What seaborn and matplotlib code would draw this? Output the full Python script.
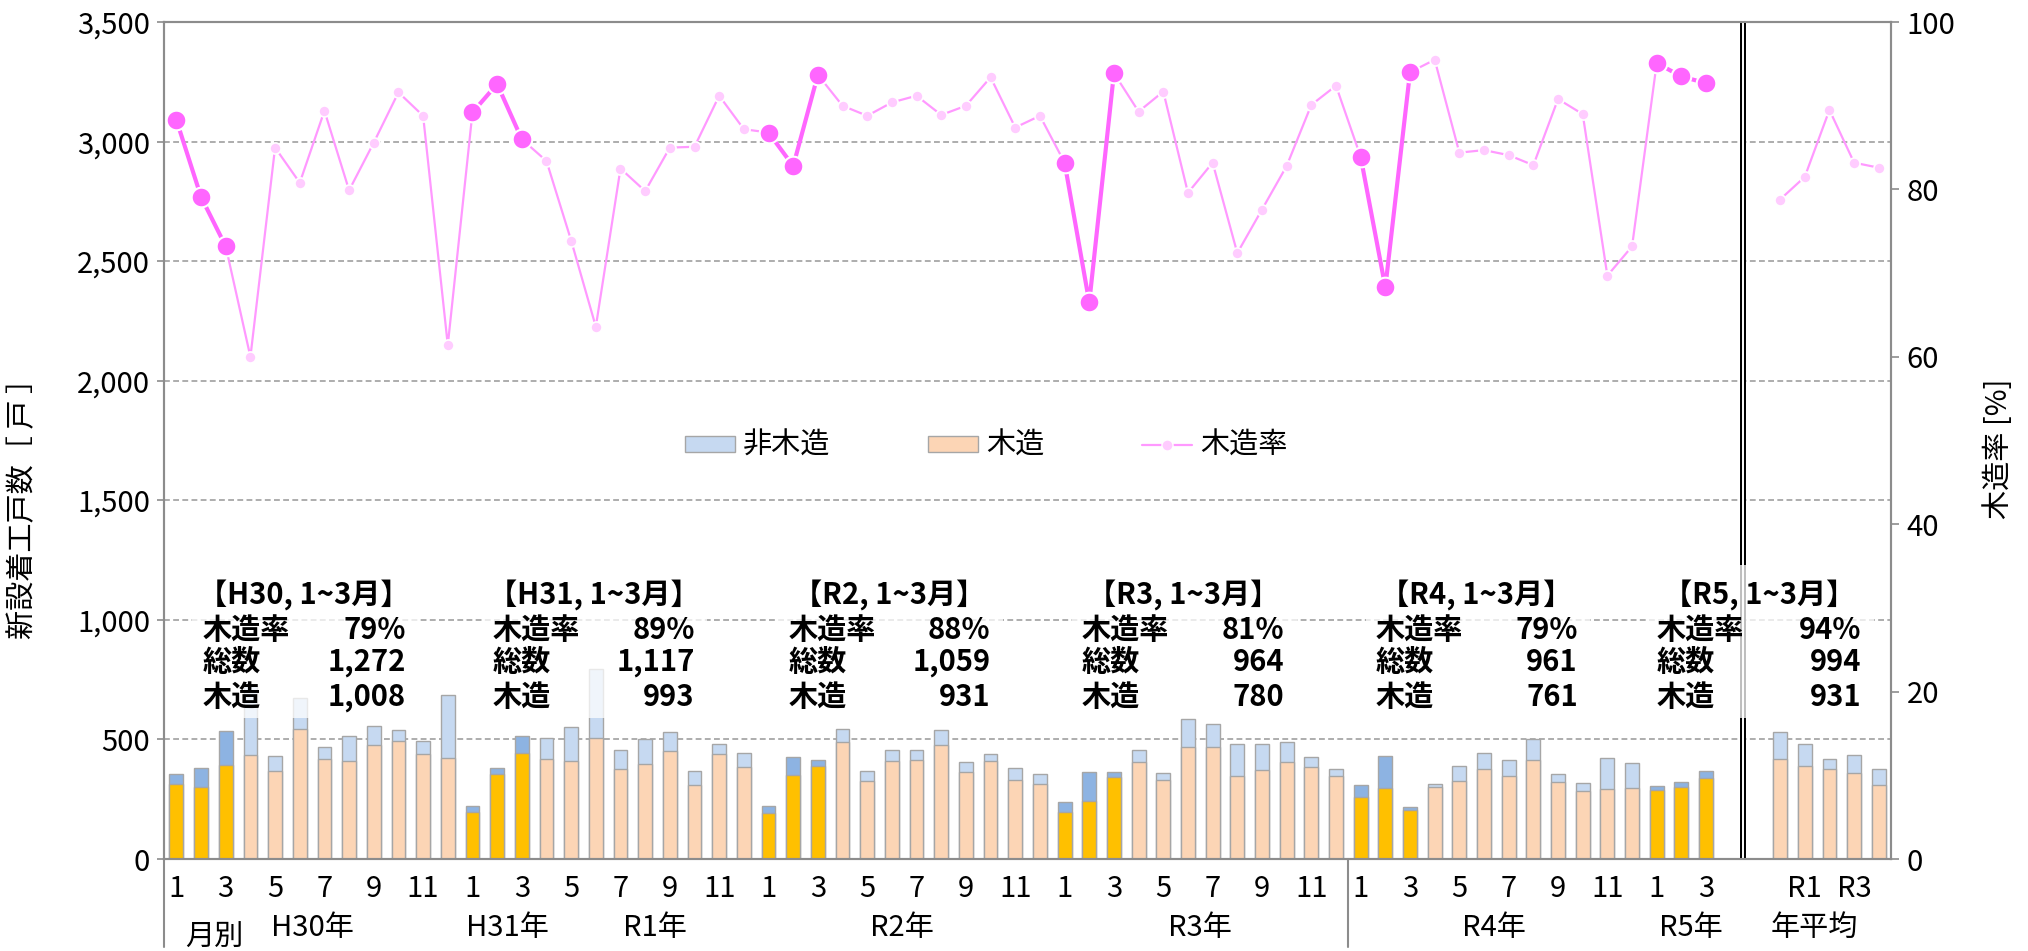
import numpy as np
import pandas as pd
import matplotlib
matplotlib.use('Agg')
import matplotlib.pyplot as plt
import matplotlib.transforms as mtransforms
from matplotlib.patches import Patch, Rectangle
from matplotlib.lines import Line2D
import seaborn as sns

## monthly values, H30/1 .. R5/3 (63 months), then yearly averages H30..R4
wood_monthly = [315, 301, 392, 433, 368, 545, 418, 410, 475, 493, 438, 421,
                197, 354, 442, 420, 410, 505, 376, 399, 452, 311, 438, 385,
                192, 352, 387, 489, 326, 411, 414, 478, 365, 411, 332, 315,
                197, 241, 342, 406, 329, 467, 468, 347, 374, 404, 385, 347,
                260, 296, 205, 301, 328, 376, 347, 415, 322, 284, 293, 296,
                290, 301, 340]
total_monthly = [357, 380, 535, 722, 432, 673, 468, 513, 556, 541, 493, 687,
                 223, 380, 514, 505, 553, 795, 456, 500, 532, 368, 480, 443,
                 220, 425, 414, 542, 367, 454, 454, 538, 407, 440, 379, 355,
                 237, 365, 362, 454, 360, 585, 565, 481, 481, 489, 425, 376,
                 310, 432, 219, 312, 389, 445, 413, 500, 355, 318, 421, 403,
                 304, 321, 369]
rate_monthly = [88.3, 79.1, 73.2, 60.0, 85.0, 80.8, 89.4, 79.9, 85.6, 91.6, 88.8, 61.4,
                89.2, 92.6, 86.0, 83.4, 73.9, 63.6, 82.5, 79.8, 85.0, 85.1, 91.2, 87.2,
                86.8, 82.8, 93.7, 90.0, 88.8, 90.4, 91.2, 88.9, 90.0, 93.4, 87.4, 88.8,
                83.2, 66.5, 93.9, 89.3, 91.7, 79.6, 83.2, 72.4, 77.6, 82.8, 90.1, 92.4,
                83.9, 68.3, 94.0, 95.5, 84.4, 84.7, 84.1, 82.9, 90.8, 89.0, 69.7, 73.2,
                95.1, 93.5, 92.7]
wood_annual = [418, 390, 375, 360, 311]
total_annual = [531, 480, 417, 434, 376]
rate_annual = [78.8, 81.5, 89.5, 83.2, 82.6]

## Jan-Mar summaries
q1_years = ['H30', 'H31', 'R2', 'R3', 'R4', 'R5']
q1_rate = ['79%', '89%', '88%', '81%', '79%', '94%']
q1_total = ['1,272', '1,117', '1,059', '964', '961', '994']
q1_wood = ['1,008', '993', '931', '780', '761', '931']

month_ticks = ['1', '3', '5', '7', '9', '11']
annual_ticks = {66: 'R1', 68: 'R3'}
year_labels = [(5.5, 'H30年'), (13.4, 'H31年'), (19.4, 'R1年'), (29.4, 'R2年'),
               (41.5, 'R3年'), (53.4, 'R4年'), (61.4, 'R5年'), (66.4, '年平均')]

C_WOOD, C_NON = '#FCD5B5', '#C6D9F1'
C_WOOD_Q1, C_NON_Q1 = '#FFC000', '#8DB3E2'
C_EDGE, C_AX = '#a6a6a6', '#8c8c8c'
C_LINE, C_MK, C_HI = '#FF99FF', '#FFCCFF', '#FF66FF'
FS = 21

sns.set_theme(style='white')
plt.rcParams['font.family'] = ['Noto Sans CJK JP', 'DejaVu Sans']
plt.rcParams['text.color'] = 'black'
plt.rcParams['axes.labelcolor'] = 'black'

month_x = np.arange(len(wood_monthly))
annual_x = np.arange(65, 65 + len(wood_annual))
df = pd.DataFrame({
    'x': np.r_[month_x, annual_x],
    'wood': wood_monthly + wood_annual,
    'total': total_monthly + total_annual,
    'q1': [m % 12 < 3 for m in month_x] + [False] * len(wood_annual),
})

fig = plt.figure(figsize=(20.28, 9.51), dpi=100)
ax = fig.add_axes([0.0809, 0.0967, 0.8516, 0.8801])

for q1, d in df.groupby('q1'):
    sns.barplot(data=d, x='x', y='total', native_scale=True, orient='x', width=0.56,
                color=C_NON_Q1 if q1 else C_NON, saturation=1, edgecolor=C_EDGE,
                linewidth=1.0, errorbar=None, ax=ax)
    sns.barplot(data=d, x='x', y='wood', native_scale=True, orient='x', width=0.56,
                color=C_WOOD_Q1 if q1 else C_WOOD, saturation=1, edgecolor=C_EDGE,
                linewidth=1.0, errorbar=None, ax=ax)

ax.set_xlim(-0.5, 69.5)
ax.set_ylim(0, 3500)
ax.set_yticks(np.arange(0, 3501, 500))
ax.set_yticklabels(['{:,}'.format(v) for v in range(0, 3501, 500)])
ax.yaxis.grid(True, linestyle=(0, (3.5, 2)), color='#a0a0a0', lw=1.2)
ax.set_axisbelow(True)

tick_pos, tick_lab = [], []
for m in month_x:
    if m % 2 == 0:
        tick_pos.append(m)
        tick_lab.append(month_ticks[(m % 12) // 2])
for p, l in annual_ticks.items():
    tick_pos.append(p)
    tick_lab.append(l)
ax.set_xticks(tick_pos)
ax.set_xticklabels(tick_lab)
ax.tick_params(axis='x', length=0, pad=11, labelsize=FS, labelcolor='black')
ax.tick_params(axis='y', left=True, length=5, width=1.2, color=C_AX, pad=5,
               labelsize=FS, labelcolor='black')
ax.set_xlabel('')
ax.set_ylabel('新設着工戸数［ 戸 ］', fontsize=FS)
ax.yaxis.set_label_coords(-0.073, 0.427)

## double separator between monthly and annual blocks
ax.axvline(63.5, color='black', lw=4.3, zorder=3)
ax.axvline(63.5, color='white', lw=1.4, zorder=3.1)

trans = mtransforms.blended_transform_factory(ax.transData, ax.transAxes)
for xs in (-0.5, 47.5):
    ax.plot([xs, xs], [0, -0.105], transform=trans, clip_on=False, color=C_AX, lw=1.5)
for xp, lab in year_labels:
    ax.text(xp, -0.0824, lab, transform=trans, ha='center', va='center', fontsize=FS)
ax.text(1.54, -0.094, '月別', transform=trans, ha='center', va='center', fontsize=FS)

## Jan-Mar summary boxes
label_left = [1.05, 12.83, 24.8, 36.7, 48.6, 60.0]
value_right = [9.3, 21.0, 33.0, 44.9, 56.8, 68.3]
for g in range(len(q1_years)):
    x0, x1 = label_left[g], value_right[g]
    ax.add_patch(Rectangle((x0 - 0.4, 590), (x1 - x0) + 0.9, 640, facecolor='white',
                           alpha=0.75, edgecolor='none', zorder=4))
    ax.text((x0 + x1) / 2, 1104, '【{}, 1~3月】'.format(q1_years[g]), ha='center',
            va='center', fontsize=FS, fontweight='bold', zorder=5)
    for yv, lab, val in ((957, '木造率', q1_rate[g]), (824, '総数', q1_total[g]),
                         (677, '木造', q1_wood[g])):
        ax.text(x0, yv, lab, ha='left', va='center', fontsize=FS, fontweight='bold', zorder=5)
        ax.text(x1, yv, val, ha='right', va='center', fontsize=FS, fontweight='bold', zorder=5)

## wood ratio line
ax2 = ax.twinx()
line_kw = dict(color=C_LINE, lw=1.6, marker='o', markersize=8, markerfacecolor=C_MK,
               markeredgecolor='white', markeredgewidth=1.2, legend=False, ax=ax2)
sns.lineplot(x=month_x, y=rate_monthly, **line_kw)
sns.lineplot(x=annual_x, y=rate_annual, **line_kw)
q1_idx = [m for m in month_x if m % 12 < 3]
for start in range(0, len(month_x), 12):
    seg = [m for m in q1_idx if start <= m < start + 3]
    sns.lineplot(x=seg, y=[rate_monthly[m] for m in seg], color=C_HI, lw=3.0,
                 legend=False, ax=ax2)
sns.scatterplot(x=q1_idx, y=[rate_monthly[m] for m in q1_idx], s=200, color=C_HI,
                edgecolor='white', linewidth=1.5, zorder=5, legend=False, ax=ax2)
ax2.set_ylim(0, 100)
ax2.set_yticks(np.arange(0, 101, 20))
ax2.tick_params(axis='y', right=True, length=6, width=1.2, color=C_AX, pad=5,
                labelsize=FS, labelcolor='black')
ax2.set_ylabel('木造率 [%]', fontsize=FS)
ax2.yaxis.set_label_coords(1.054, 0.49)
ax2.grid(False)

for a in (ax, ax2):
    for sp in a.spines.values():
        sp.set_color(C_AX)
        sp.set_linewidth(1.5)

handles = [Patch(facecolor=C_NON, edgecolor=C_EDGE),
           Patch(facecolor=C_WOOD, edgecolor=C_EDGE),
           Line2D([], [], color=C_LINE, lw=1.6, marker='o', ms=8, mfc=C_MK, mec='white')]
ax2.legend(handles, ['非木造', '木造', '木造率'], loc='center', bbox_to_anchor=(0.476, 0.4934),
           ncol=3, frameon=False, fontsize=FS, handlelength=1.72, handleheight=0.45,
           columnspacing=3.35, handletextpad=0.27)

fig.savefig('out.png', dpi=100)
